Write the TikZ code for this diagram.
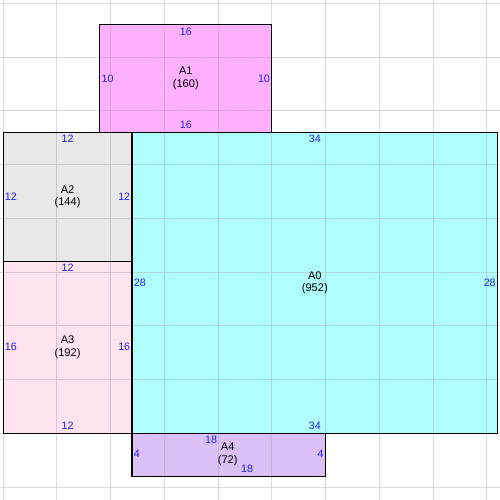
\documentclass[tikz,border=0pt]{standalone}
\usepackage{fontspec}
\setmainfont{Liberation Sans}
\usetikzlibrary{calc}
\definecolor{fillA0}{HTML}{B0FFFF}
\definecolor{fillA1}{HTML}{FFB0FF}
\definecolor{fillA2}{HTML}{E8E8E8}
\definecolor{fillA3}{HTML}{FFE3EE}
\definecolor{fillA4}{HTML}{DAC0F5}
\definecolor{sidenum}{HTML}{2020F0}
\begin{document}
\begin{tikzpicture}[x=0.3cm, y=0.3cm,
	sidelen/.style={text=sidenum, font=\fontsize{8.5}{10}\selectfont, inner sep=0pt},
	roomlbl/.style={align=center, font=\fontsize{8.8}{10.2}\selectfont, inner sep=0pt},
	wall/.style={draw=black, line width=0.9pt}]
	\useasboundingbox (-0.286,-6.2) rectangle (46.23,40.3);
	% fills
	\fill[fillA0] (12,0) rectangle (46,28);
	\fill[fillA1] (9,28) rectangle (25,38);
	\fill[fillA2] (0,16) rectangle (12,28);
	\fill[fillA3] (0,0) rectangle (12,16);
	\fill[fillA4] (12,-4) rectangle (30,0);
	% grid
	\draw[gray!75, opacity=0.4, line width=0.6pt] (-1,-7) grid[step=5] (47,41);
	% outlines
	\draw[wall] (12,0) rectangle (46,28);
	\draw[wall] (9,28) rectangle (25,38);
	\draw[wall] (0,16) rectangle (12,28);
	\draw[wall] (0,0) rectangle (12,16);
	\draw[wall] (12,-4) rectangle (30,0);
	% A0
	\node[roomlbl] (a0) at (29,14) {A0\\(952)};
	\node[sidelen] (a0top) at (29,27.35) {34};
	\node[sidelen] (a0bot) at (29,0.65) {34};
	\node[sidelen, anchor=west] (a0lft) at (12.15,14) {28};
	\node[sidelen, anchor=east] (a0rgt) at (45.85,14) {28};
	% A1
	\node[roomlbl] (a1) at (17,33.05) {A1\\(160)};
	\node[sidelen] (a1top) at (17,37.35) {16};
	\node[sidelen] (a1bot) at (17,28.65) {16};
	\node[sidelen, anchor=west] (a1lft) at (9.15,33) {10};
	\node[sidelen, anchor=east] (a1rgt) at (24.85,33) {10};
	% A2
	\node[roomlbl] (a2) at (6,22) {A2\\(144)};
	\node[sidelen] (a2top) at (6,27.35) {12};
	\node[sidelen, anchor=west] (a2lft) at (0.15,22) {12};
	\node[sidelen, anchor=east] (a2rgt) at (11.85,22) {12};
	% A3
	\node[roomlbl] (a3) at (6,8) {A3\\(192)};
	\node[sidelen] (a3top) at (6,15.35) {12};
	\node[sidelen] (a3bot) at (6,0.65) {12};
	\node[sidelen, anchor=west] (a3lft) at (0.15,8) {16};
	\node[sidelen, anchor=east] (a3rgt) at (11.85,8) {16};
	% A4
	\node[roomlbl] (a4) at (20.9,-1.95) {A4\\(72)};
	\node[sidelen] (a4top) at (19.35,-0.6) {18};
	\node[sidelen] (a4bot) at (22.7,-3.35) {18};
	\node[sidelen, anchor=west] (a4lft) at (12.15,-1.95) {4};
	\node[sidelen, anchor=east] (a4rgt) at (29.85,-1.95) {4};
\end{tikzpicture}
\end{document}
